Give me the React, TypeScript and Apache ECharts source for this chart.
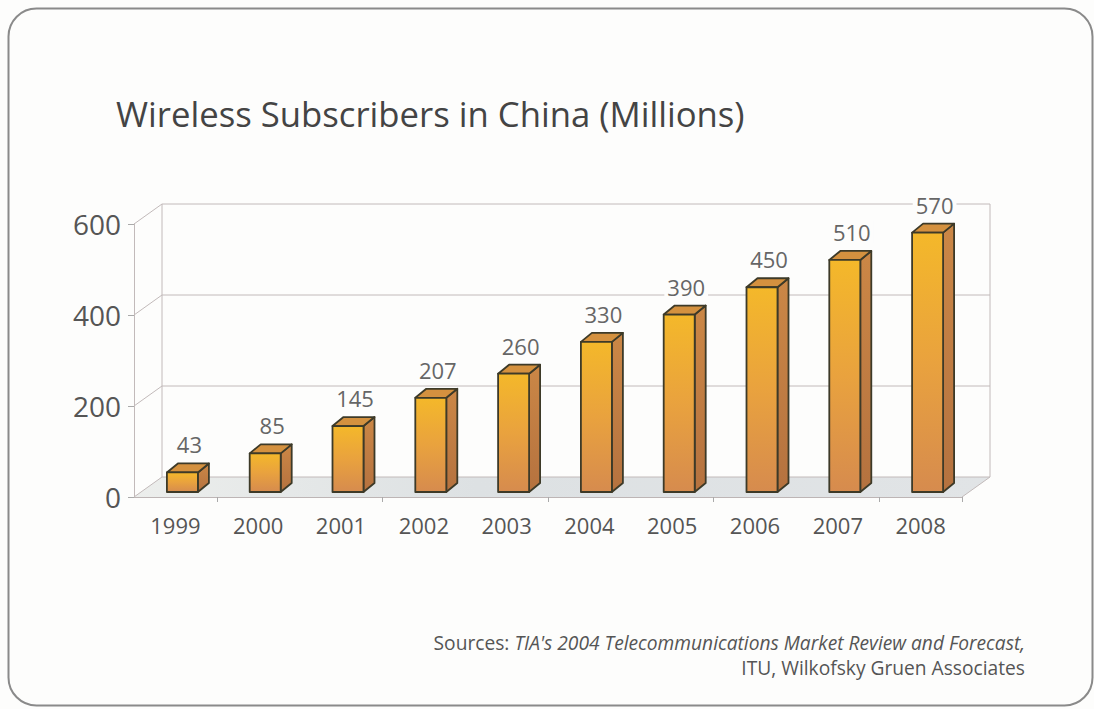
import React, { useEffect, useRef } from "react";
import * as echarts from "echarts";

const years = ["1999", "2000", "2001", "2002", "2003", "2004", "2005", "2006", "2007", "2008"];
const subscribers = [43, 85, 145, 207, 260, 330, 390, 450, 510, 570];
const yTicks = [0, 200, 400, 600];
const titleText = "Wireless Subscribers in China (Millions)";
const sourceLine1Plain = "Sources: ";
const sourceLine1Italic = "TIA's 2004 Telecommunications Market Review and Forecast,";
const sourceLine2 = "ITU, Wilkofsky Gruen Associates";

const FONT = "'Open Sans', 'Noto Sans', sans-serif";
// depth offsets (pseudo-3D)
const WALL_DX = 28;
const WALL_DY = -20;
const BAR_PLANE_DX = 7;
const BAR_PLANE_DY = -5;
const BAR_W = 31;
const BAR_DX = 11;
const BAR_DY = -9;

export default function App() {
  const ref = useRef<HTMLDivElement>(null);

  useEffect(() => {
    if (!ref.current) return;
    const chart = echarts.init(ref.current, null, { renderer: "svg" });

    const renderWalls = (params: any, api: any) => {
      const cs = params.coordSys;
      const v = api.value(1);
      const y = api.coord([0, v])[1];
      const L = cs.x;
      const R = cs.x + cs.width;
      const top = cs.y;
      const lineStyle = { stroke: "#c2baba", lineWidth: 1, fill: null };
      const children: any[] = [];
      if (v === 0) {
        children.push({
          type: "polygon",
          shape: { points: [[L, y], [R, y], [R + WALL_DX, y + WALL_DY], [L + WALL_DX, y + WALL_DY]] },
          style: {
            fill: new echarts.graphic.LinearGradient(0, 0, 1, 0, [
              { offset: 0, color: "#eceeec" },
              { offset: 0.4, color: "#dde1e3" },
              { offset: 1, color: "#e1e4e6" },
            ]),
            stroke: null,
          },
        });
        children.push({
          type: "line",
          shape: { x1: L + WALL_DX, y1: y + WALL_DY, x2: L + WALL_DX, y2: top + WALL_DY },
          style: lineStyle,
        });
        children.push({
          type: "line",
          shape: { x1: R + WALL_DX, y1: y + WALL_DY, x2: R + WALL_DX, y2: top + WALL_DY },
          style: lineStyle,
        });
        children.push({
          type: "line",
          shape: { x1: R, y1: y, x2: R + WALL_DX, y2: y + WALL_DY },
          style: lineStyle,
        });
      }
      children.push({
        type: "line",
        shape: { x1: L + WALL_DX, y1: y + WALL_DY, x2: R + WALL_DX, y2: y + WALL_DY },
        style: lineStyle,
      });
      children.push({
        type: "line",
        shape: { x1: L, y1: y, x2: L + WALL_DX, y2: y + WALL_DY },
        style: lineStyle,
      });
      return { type: "group", children };
    };

    const renderBar = (params: any, api: any) => {
      const idx = api.value(0);
      const val = api.value(1);
      const topPt = api.coord([idx, val]);
      const basePt = api.coord([idx, 0]);
      const cx = topPt[0] + BAR_PLANE_DX;
      const yTop = topPt[1] + BAR_PLANE_DY;
      const yBot = basePt[1] + BAR_PLANE_DY;
      const xl = cx - BAR_W / 2;
      const xr = cx + BAR_W / 2;
      const stroke = { stroke: "#3d3a28", lineWidth: 1.8, lineJoin: "round" };
      return {
        type: "group",
        children: [
          {
            type: "polygon",
            shape: { points: [[xr, yTop], [xr + BAR_DX, yTop + BAR_DY], [xr + BAR_DX, yBot + BAR_DY], [xr, yBot]] },
            style: {
              fill: new echarts.graphic.LinearGradient(0, 0, 0, 1, [
                { offset: 0, color: "#cb8746" },
                { offset: 1, color: "#b5723f" },
              ]),
              ...stroke,
            },
          },
          {
            type: "polygon",
            shape: { points: [[xl, yTop], [xl + BAR_DX, yTop + BAR_DY], [xr + BAR_DX, yTop + BAR_DY], [xr, yTop]] },
            style: { fill: "#d4913f", ...stroke },
          },
          {
            type: "rect",
            shape: { x: xl, y: yTop, width: BAR_W, height: yBot - yTop },
            style: {
              fill: new echarts.graphic.LinearGradient(0, 0, 0, 1, [
                { offset: 0, color: "#f4b82a" },
                { offset: 0.5, color: "#e9a23e" },
                { offset: 1, color: "#d68b4e" },
              ]),
              ...stroke,
            },
          },
          {
            type: "text",
            x: cx + 7,
            y: yTop + BAR_DY - 8,
            style: {
              text: String(val),
              fontSize: 22,
              fontFamily: FONT,
              fill: "#666",
              align: "center",
              verticalAlign: "bottom",
              backgroundColor: "#fdfdfc",
              padding: [0, 3],
            },
          },
        ],
      };
    };

    chart.setOption({
      animation: false,
      backgroundColor: "#fdfdfc",
      grid: { left: 134, right: 132, top: 224, bottom: 212, containLabel: false },
      xAxis: {
        type: "category",
        data: years,
        boundaryGap: true,
        axisLine: { show: true, lineStyle: { color: "#bdb5b5", width: 1 } },
        axisTick: {
          show: true,
          interval: (i: number) => i % 2 === 1,
          length: 5,
          lineStyle: { color: "#aaa" },
        },
        axisLabel: { margin: 17, fontSize: 22, fontFamily: FONT, color: "#555", interval: 0 },
        splitLine: { show: false },
      },
      yAxis: {
        type: "value",
        min: 0,
        max: 600,
        interval: 200,
        axisLine: { show: true, lineStyle: { color: "#c2baba", width: 1 } },
        axisTick: { show: true, length: 6, lineStyle: { color: "#aaa" } },
        axisLabel: { margin: 13, fontSize: 28, fontFamily: FONT, color: "#555" },
        splitLine: { show: false },
      },
      series: [
        {
          type: "custom",
          name: "walls",
          z: 1,
          silent: true,
          renderItem: renderWalls,
          data: yTicks.map((t) => [0, t]),
          encode: { x: 0, y: 1 },
        },
        {
          type: "custom",
          name: "Wireless Subscribers",
          z: 5,
          renderItem: renderBar,
          data: subscribers.map((v, i) => [i, v]),
          encode: { x: 0, y: 1 },
        },
      ],
      graphic: [
        {
          type: "rect",
          z: 0,
          silent: true,
          shape: { x: 8.5, y: 8.5, width: 1084, height: 697, r: 28 },
          style: { fill: "none", stroke: "#8a8a8a", lineWidth: 2 },
        },
        {
          type: "text",
          left: 116,
          top: 96,
          style: {
            text: titleText,
            fontSize: 34.7,
            fontFamily: FONT,
            fill: "#444",
          },
        },
        {
          type: "text",
          right: 1094 - 1025,
          top: 633,
          style: {
            text: `{a|${sourceLine1Plain}}{b|${sourceLine1Italic}}`,
            rich: {
              a: { fontSize: 19.2, fontFamily: FONT, fill: "#555" },
              b: { fontSize: 19.2, fontFamily: FONT, fill: "#555", fontStyle: "italic" },
            },
          },
        },
        {
          type: "text",
          right: 1094 - 1025,
          top: 658,
          style: {
            text: sourceLine2,
            fontSize: 19.2,
            fontFamily: FONT,
            fill: "#555",
          },
        },
      ],
    });

    return () => chart.dispose();
  }, []);

  return (
    <div
      ref={ref}
      style={{ position: "fixed", left: 0, top: 0, width: 1094, height: 709 }}
    />
  );
}
